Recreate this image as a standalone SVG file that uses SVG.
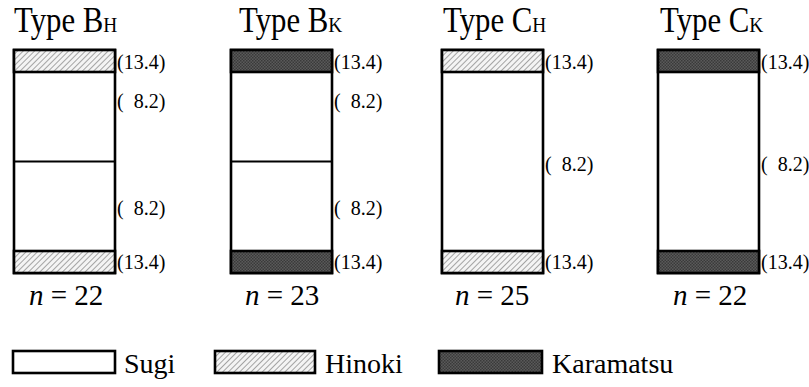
<svg xmlns="http://www.w3.org/2000/svg" width="809" height="387" viewBox="0 0 809 387">
  <defs>
    <pattern id="hinoki" patternUnits="userSpaceOnUse" width="4" height="4" patternTransform="rotate(45)">
      <rect width="4" height="4" fill="#f4f4f4"/>
      <line x1="0" y1="0" x2="0" y2="4" stroke="#8a8a8a" stroke-width="1.5"/>
    </pattern>
    <pattern id="karamatsu" patternUnits="userSpaceOnUse" width="3" height="3">
      <rect width="3" height="3" fill="#5a5a5a"/>
      <rect width="1.5" height="1.5" fill="#3a3a3a"/>
      <rect x="1.5" y="1.5" width="1.5" height="1.5" fill="#3a3a3a"/>
    </pattern>
  </defs>
  <style>
    text { font-family: "Liberation Serif", Tinos, "Times New Roman", "DejaVu Serif", serif; fill: #000; }
    .title { font-size: 35px; }
    .sub { font-size: 22px; }
    .lbl { font-size: 20px; }
    .n { font-size: 29px; }
    .leg { font-size: 28px; }
    .frame { fill: #fff; stroke: #000; stroke-width: 2.6; }
    .band { stroke: #000; stroke-width: 2.6; }
    .div { stroke: #000; stroke-width: 2.2; }
  </style>

  <g font-family="Liberation Serif, Tinos, Times New Roman, DejaVu Serif, serif">
  <!-- Type B_H: Hinoki faces, two Sugi core layers -->
  <g id="typeBH">
    <text class="title" transform="translate(14,32) scale(0.88,1)">Type B<tspan class="sub">H</tspan></text>
    <rect class="frame" x="14" y="50" width="101" height="223"/>
    <rect class="band" x="14" y="50" width="101" height="22" fill="url(#hinoki)"/>
    <rect class="band" x="14" y="251" width="101" height="22" fill="url(#hinoki)"/>
    <line class="div" x1="14" y1="161.5" x2="115" y2="161.5"/>
    <text class="lbl" x="117" y="69">(13.4)</text>
    <text class="lbl" x="117" y="108" xml:space="preserve">(  8.2)</text>
    <text class="lbl" x="117" y="215" xml:space="preserve">(  8.2)</text>
    <text class="lbl" x="117" y="269">(13.4)</text>
    <text class="n" x="29" y="305"><tspan font-style="italic">n</tspan> = 22</text>
  </g>

  <!-- Type B_K: Karamatsu faces, two Sugi core layers -->
  <g id="typeBK">
    <text class="title" transform="translate(239,32) scale(0.88,1)">Type B<tspan class="sub">K</tspan></text>
    <rect class="frame" x="231" y="50" width="101" height="223"/>
    <rect class="band" x="231" y="50" width="101" height="22" fill="url(#karamatsu)"/>
    <rect class="band" x="231" y="251" width="101" height="22" fill="url(#karamatsu)"/>
    <line class="div" x1="231" y1="161.5" x2="332" y2="161.5"/>
    <text class="lbl" x="334" y="69">(13.4)</text>
    <text class="lbl" x="334" y="108" xml:space="preserve">(  8.2)</text>
    <text class="lbl" x="334" y="215" xml:space="preserve">(  8.2)</text>
    <text class="lbl" x="334" y="269">(13.4)</text>
    <text class="n" x="245" y="305"><tspan font-style="italic">n</tspan> = 23</text>
  </g>

  <!-- Type C_H: Hinoki faces, single Sugi core -->
  <g id="typeCH">
    <text class="title" transform="translate(443,32) scale(0.88,1)">Type C<tspan class="sub">H</tspan></text>
    <rect class="frame" x="442" y="50" width="101" height="223"/>
    <rect class="band" x="442" y="50" width="101" height="22" fill="url(#hinoki)"/>
    <rect class="band" x="442" y="251" width="101" height="22" fill="url(#hinoki)"/>
    <text class="lbl" x="545" y="69">(13.4)</text>
    <text class="lbl" x="545" y="171" xml:space="preserve">(  8.2)</text>
    <text class="lbl" x="545" y="269">(13.4)</text>
    <text class="n" x="455" y="305"><tspan font-style="italic">n</tspan> = 25</text>
  </g>

  <!-- Type C_K: Karamatsu faces, single Sugi core -->
  <g id="typeCK">
    <text class="title" transform="translate(660,32) scale(0.88,1)">Type C<tspan class="sub">K</tspan></text>
    <rect class="frame" x="658" y="50" width="101" height="223"/>
    <rect class="band" x="658" y="50" width="101" height="22" fill="url(#karamatsu)"/>
    <rect class="band" x="658" y="251" width="101" height="22" fill="url(#karamatsu)"/>
    <text class="lbl" x="761" y="69">(13.4)</text>
    <text class="lbl" x="761" y="171" xml:space="preserve">(  8.2)</text>
    <text class="lbl" x="761" y="269">(13.4)</text>
    <text class="n" x="673" y="305"><tspan font-style="italic">n</tspan> = 22</text>
  </g>

  <!-- Legend -->
  <g id="legend">
    <rect class="frame" x="13" y="351" width="102" height="22"/>
    <text class="leg" x="124" y="373">Sugi</text>
    <rect class="band" x="215" y="351" width="100" height="22" fill="url(#hinoki)"/>
    <text class="leg" x="325" y="373">Hinoki</text>
    <rect class="band" x="439" y="351" width="103" height="22" fill="url(#karamatsu)"/>
    <text class="leg" x="552" y="373">Karamatsu</text>
  </g>
  </g>
</svg>
